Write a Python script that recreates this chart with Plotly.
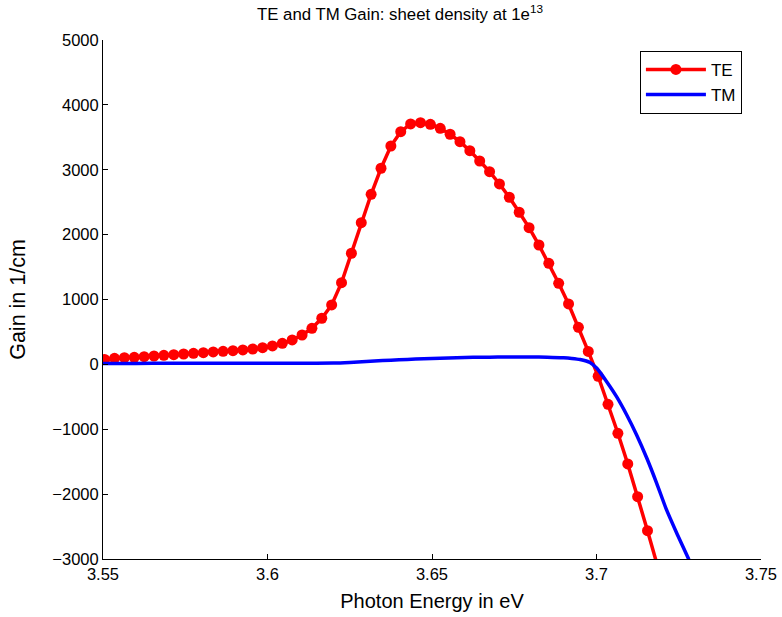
import plotly.graph_objects as go

# TE data (photon energy in eV, gain in 1/cm)
te_energy = [3.5505, 3.5535, 3.5565, 3.5595, 3.5625, 3.5655, 3.5685, 3.5715, 3.5745, 3.5775,
             3.5805, 3.5835, 3.5865, 3.5895, 3.5925, 3.5955, 3.5985, 3.6015, 3.6045, 3.6075,
             3.6105, 3.6135, 3.6165, 3.6195, 3.6225, 3.6255, 3.6285, 3.6315, 3.6345, 3.6375,
             3.6405, 3.6435, 3.6465, 3.6495, 3.6525, 3.6555, 3.6585, 3.6615, 3.6645, 3.6675,
             3.6705, 3.6735, 3.6765, 3.6795, 3.6825, 3.6855, 3.6885, 3.6915, 3.6945, 3.6975,
             3.7005, 3.7035, 3.7065, 3.7095, 3.7125, 3.7155, 3.7185]
te_gain = [75, 94, 103, 109, 119, 129, 140, 150, 160, 171,
           180, 191, 202, 211, 222, 237, 257, 284, 325, 376,
           453, 556, 711, 916, 1259, 1713, 2184, 2622, 3023, 3366,
           3587, 3706, 3726, 3701, 3639, 3547, 3433, 3294, 3135, 2970,
           2781, 2576, 2345, 2107, 1840, 1558, 1250, 931, 572, 200,
           -183, -615, -1062, -1535, -2039, -2563, -3100]

# TM data
tm_energy = [3.55, 3.56, 3.57, 3.58, 3.59, 3.60, 3.61, 3.62, 3.625, 3.63, 3.635, 3.64, 3.645,
             3.65, 3.655, 3.66, 3.665, 3.67, 3.675, 3.68, 3.685, 3.69, 3.6925, 3.695,
             3.698, 3.7001, 3.7031, 3.7061, 3.7092, 3.7122, 3.7153, 3.7183, 3.7213,
             3.7244, 3.7279, 3.729]
tm_gain = [15, 15, 16, 16, 17, 17, 18, 20, 30, 45, 58, 70, 82,
           92, 100, 106, 110, 113, 114, 114, 111, 102, 92, 75,
           30, -60, -267, -498, -780, -1088, -1447, -1833, -2244,
           -2603, -2989, -3130]

x_ticks = [3.55, 3.6, 3.65, 3.7, 3.75]
x_tick_labels = ["3.55", "3.6", "3.65", "3.7", "3.75"]
y_ticks = [-3000, -2000, -1000, 0, 1000, 2000, 3000, 4000, 5000]
y_tick_labels = ["\u22123000", "\u22122000", "\u22121000", "0", "1000", "2000", "3000", "4000", "5000"]

FONT = "Liberation Sans, Arial, Helvetica, sans-serif"

W, H = 782, 617

fig = go.Figure()
fig.add_trace(go.Scatter(
    x=te_energy, y=te_gain, mode="lines+markers", name="TE",
    line=dict(color="#ff0000", width=3.5),
    marker=dict(color="#ff0000", size=11),
))
fig.add_trace(go.Scatter(
    x=tm_energy, y=tm_gain, mode="lines", name="TM",
    line=dict(color="#0000ff", width=3.5, shape="spline", smoothing=0.6),
))

fig.update_layout(
    width=W, height=H,
    paper_bgcolor="white", plot_bgcolor="white",
    margin=dict(l=103, r=21, t=40, b=58, autoexpand=False),
    font=dict(family=FONT, size=16.5, color="black"),
    title=dict(text="TE and TM Gain: sheet density at 1e<sup>13</sup>",
               x=400 / W, xanchor="center", y=1 - 14 / H, yanchor="middle",
               font=dict(family=FONT, size=16.8, color="black")),
    showlegend=True,
    legend=dict(x=0.971, y=0.979, xanchor="right", yanchor="top",
                bgcolor="white", bordercolor="black", borderwidth=1,
                font=dict(family=FONT, size=17, color="black"),
                itemwidth=60, tracegroupgap=0),
)
fig.update_xaxes(
    range=[3.55, 3.75], tickmode="array", tickvals=x_ticks, ticktext=x_tick_labels,
    showline=True, linecolor="black", linewidth=1, ticks="inside", ticklen=5,
    tickcolor="black", showgrid=False, zeroline=False, mirror=False, automargin=False,
    title=dict(text="Photon Energy in eV", standoff=12, font=dict(size=20)),
    tickfont=dict(size=16.5),
)
fig.update_yaxes(
    range=[-3000, 5000], tickmode="array", tickvals=y_ticks, ticktext=y_tick_labels,
    showline=True, linecolor="black", linewidth=1, ticks="inside", ticklen=5,
    tickcolor="black", showgrid=False, zeroline=False, mirror=False, automargin=False,
    title=dict(text="Gain in 1/cm", standoff=20, font=dict(size=21.5)),
    tickfont=dict(size=16.5),
)

fig.write_html("out.html",
               config={"displayModeBar": False},
               post_script="document.body.style.margin='0';document.body.style.overflow='hidden';")
